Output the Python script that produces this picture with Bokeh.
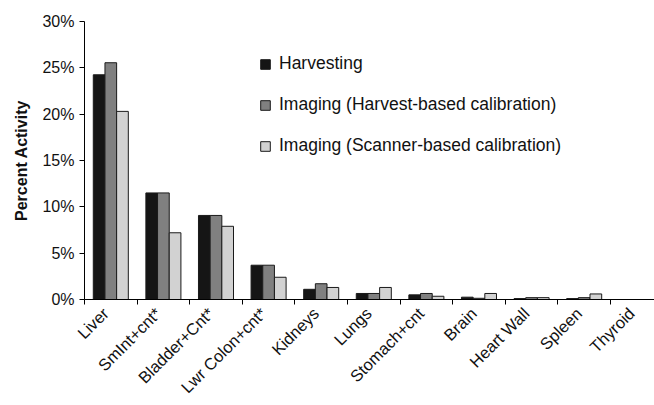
from bokeh.plotting import figure
from bokeh.models import Range1d, FixedTicker, Legend, LegendItem
from bokeh.embed import file_html
from bokeh.resources import INLINE

organs = ["Liver", "SmInt+cnt*", "Bladder+Cnt*", "Lwr Colon+cnt*", "Kidneys", "Lungs",
          "Stomach+cnt", "Brain", "Heart Wall", "Spleen", "Thyroid"]
harvesting = [24.25, 11.5, 9.07, 3.7, 1.1, 0.65, 0.5, 0.25, 0.1, 0.1, 0.0]
imaging_harvest = [25.55, 11.5, 9.07, 3.7, 1.7, 0.65, 0.65, 0.13, 0.2, 0.2, 0.0]
imaging_scanner = [20.3, 7.2, 7.9, 2.4, 1.3, 1.3, 0.35, 0.65, 0.2, 0.6, 0.0]
series_names = ["Harvesting", "Imaging (Harvest-based calibration)", "Imaging (Scanner-based calibration)"]
series_colors = ["#151515", "#808080", "#d2d2d2"]
y_ticks = [0, 5, 10, 15, 20, 25, 30]

FONT = "Liberation Sans"
n = len(organs)
centers = [i + 0.5 for i in range(n)]
label_pos = [c - 0.1 for c in centers]

p = figure(width=654, height=405, output_backend="svg", toolbar_location=None,
           x_range=Range1d(0, 10.837), y_range=Range1d(0, 30),
           min_border_left=84, min_border_right=0, min_border_top=21, min_border_bottom=106)
p.outline_line_color = None
p.xgrid.grid_line_color = None
p.ygrid.grid_line_color = None
p.background_fill_color = "white"
p.border_fill_color = "white"

bw = 0.222
offsets = [-bw, 0.0, bw]
renderers = []
for vals, off, col in zip([harvesting, imaging_harvest, imaging_scanner], offsets, series_colors):
    r = p.vbar(x=[c + off for c in centers], top=vals, width=bw, bottom=0,
               fill_color=col, line_color="#1a1a1a", line_width=1)
    renderers.append(r)

# y axis
ya = p.yaxis[0]
ya.ticker = FixedTicker(ticks=y_ticks, minor_ticks=[])
ya.major_label_overrides = {t: f"{t}%" for t in y_ticks}
ya.major_tick_out = 5
ya.major_tick_in = 0
ya.minor_tick_line_color = None
ya.axis_line_color = "black"
ya.major_tick_line_color = "black"
ya.major_label_text_font = FONT
ya.major_label_text_font_size = "16px"
ya.major_label_text_color = "#111111"
ya.major_label_standoff = 5
ya.axis_label = "Percent Activity"
ya.axis_label_text_font = FONT
ya.axis_label_text_font_size = "16px"
ya.axis_label_text_font_style = "bold"
ya.axis_label_text_color = "#111111"
ya.axis_label_standoff = 9

# x axis
xa = p.xaxis[0]
xa.ticker = FixedTicker(ticks=label_pos, minor_ticks=list(range(n + 1)))
xa.major_label_overrides = {c: name for c, name in zip(label_pos, organs)}
xa.major_tick_line_color = None
xa.major_tick_out = 0
xa.major_tick_in = 0
xa.minor_tick_out = 5
xa.minor_tick_in = 0
xa.minor_tick_line_color = "black"
xa.axis_line_color = "black"
xa.major_label_orientation = 0.785398
xa.major_label_text_font = FONT
xa.major_label_text_font_size = "16.5px"
xa.major_label_text_color = "#111111"
xa.major_label_standoff = 6

legend = Legend(items=[LegendItem(label=nm, renderers=[r]) for nm, r in zip(series_names, renderers)],
                location=(175, 143), orientation="vertical")
legend.label_text_font = FONT
legend.label_text_font_size = "17.5px"
legend.label_text_color = "#111111"
legend.glyph_width = 12
legend.glyph_height = 12
legend.label_standoff = 8
legend.spacing = 20
legend.padding = 0
legend.margin = 0
legend.border_line_color = None
legend.background_fill_alpha = 0
p.add_layout(legend)

open("out.html", "w").write(file_html(p, INLINE))
